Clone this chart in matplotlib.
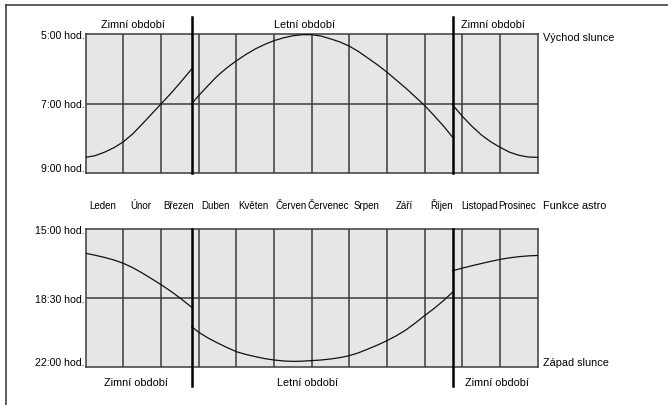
import matplotlib
matplotlib.use('Agg')
import matplotlib.pyplot as plt
from matplotlib.lines import Line2D

plt.rcParams['font.family'] = ['Liberation Sans', 'DejaVu Sans']
plt.rcParams['font.size'] = 7.8

W, H = 668, 406

months = ['Leden', 'Únor', 'Březen', 'Duben', 'Květen', 'Červen', 'Červenec',
          'Srpen', 'Září', 'Říjen', 'Listopad', 'Prosinec']
dst = [2.81, 9.74]  # zmena casu (v mesicich od 1. ledna)

# vychod slunce (hodiny), tri useky: zima / leto / zima
rise_x = [[0, 0.25, 0.5, 0.75, 1, 1.25, 1.5, 1.75, 2, 2.25, 2.5, 2.81],
          [2.81, 3, 3.25, 3.5, 3.75, 4, 4.25, 4.5, 4.75, 5, 5.25, 5.5, 5.75, 6, 6.25, 6.5, 6.75,
           7, 7.25, 7.5, 7.75, 8, 8.25, 8.5, 8.75, 9, 9.25, 9.5, 9.74],
          [9.74, 10, 10.25, 10.5, 10.75, 11, 11.25, 11.5, 11.75, 12]]
rise_y = [[8.55, 8.50, 8.40, 8.27, 8.10, 7.87, 7.59, 7.30, 7.01, 6.72, 6.41, 6.01],
          [7.01, 6.77, 6.48, 6.20, 5.97, 5.77, 5.59, 5.43, 5.30, 5.19, 5.11, 5.05, 5.02, 5.02, 5.06, 5.14, 5.23,
           5.35, 5.51, 5.70, 5.89, 6.10, 6.33, 6.56, 6.81, 7.06, 7.35, 7.65, 7.97],
          [7.04, 7.37, 7.65, 7.90, 8.10, 8.26, 8.40, 8.49, 8.54, 8.55]]

# zapad slunce (hodiny)
set_x = [[0, 0.25, 0.5, 0.75, 1, 1.25, 1.5, 1.75, 2, 2.25, 2.5, 2.81],
         [2.81, 3, 3.25, 3.5, 3.75, 4, 4.25, 4.5, 4.75, 5, 5.25, 5.5, 5.75, 6, 6.25, 6.5, 6.75,
          7, 7.25, 7.5, 7.75, 8, 8.25, 8.5, 8.75, 9, 9.25, 9.5, 9.74],
         [9.74, 10, 10.25, 10.5, 10.75, 11, 11.25, 11.5, 11.75, 12]]
set_y = [[16.23, 16.33, 16.44, 16.57, 16.74, 16.96, 17.23, 17.52, 17.82, 18.14, 18.49, 18.96],
         [19.94, 20.23, 20.52, 20.77, 21.00, 21.21, 21.35, 21.46, 21.56, 21.63, 21.68, 21.70, 21.69, 21.66, 21.63,
          21.58, 21.51, 21.41, 21.26, 21.07, 20.87, 20.65, 20.40, 20.11, 19.76, 19.38, 19.02, 18.62, 18.20],
         [17.11, 16.98, 16.86, 16.75, 16.64, 16.54, 16.46, 16.40, 16.36, 16.34]]

rise_ticks = [5, 7, 9]
rise_labels = ['5:00 hod.', '7:00 hod.', '9:00 hod.']
set_ticks = [15, 18.5, 22]
set_labels = ['15:00 hod.', '18:30 hod.', '22:00 hod.']

bg = '#e5e6e7'
grid = '#3c3c3c'

fig = plt.figure(figsize=(W / 100, H / 100), dpi=100)


def px_ax(x0, y0, x1, y1):
    return fig.add_axes([x0 / W, 1 - y1 / H, (x1 - x0) / W, (y1 - y0) / H])


ax1 = px_ax(85.8, 35, 537.7, 174)
ax2 = px_ax(85.8, 230, 537.7, 368.3)

for ax, xs, ys, ticks, labels in [(ax1, rise_x, rise_y, rise_ticks, rise_labels),
                                  (ax2, set_x, set_y, set_ticks, set_labels)]:
    ax.set_facecolor(bg)
    ax.set_xlim(0, 12)
    ax.set_ylim(ticks[-1], ticks[0])
    for i in range(1, 12):
        ax.axvline(i, color=grid, lw=1.1, zorder=1)
    ax.axhline(ticks[1], color=grid, lw=1.1, zorder=1)
    for s in ax.spines.values():
        s.set_color(grid)
        s.set_linewidth(1.1)
    for sx, sy in zip(xs, ys):
        ax.plot(sx, sy, color='#111111', lw=0.9, zorder=3)
    ax.set_xticks([])
    ax.set_yticks(ticks)
    ax.set_yticklabels(labels)
    ax.tick_params(axis='y', length=0, pad=1.2, labelsize=7.6)
    ax.get_yticklabels()[-1].set_va('bottom')

# zmena casu
for d in dst:
    ax1.axvline(d, ymin=0, ymax=1.122, color='black', lw=1.8, clip_on=False, zorder=4)
    ax2.axvline(d, ymin=-0.135, ymax=1, color='black', lw=1.8, clip_on=False, zorder=4)

# obdobi
for ax, y, xs in [(ax1, 1.072, [1.25, 5.82, 10.81]), (ax2, -0.104, [1.33, 5.89, 10.92])]:
    for x, t in zip(xs, ['Zimní období', 'Letní období', 'Zimní období']):
        ax.text(x, y, t, transform=ax.get_xaxis_transform(), ha='center', va='center')

# mesice
for i, m in enumerate(months):
    ax2.text(i + 0.45, 1.152, m, transform=ax2.get_xaxis_transform(), ha='center', va='baseline', fontsize=7)

ax1.text(12.14, 0.975, 'Východ slunce', transform=ax1.get_xaxis_transform(), ha='left', va='center')
ax2.text(12.14, 1.152, 'Funkce astro', transform=ax2.get_xaxis_transform(), ha='left', va='baseline')
ax2.text(12.14, 0.04, 'Západ slunce', transform=ax2.get_xaxis_transform(), ha='left', va='center')

# ramecek
fig.add_artist(Line2D([6 / W, 1], [1 - 6 / H, 1 - 6 / H], color='#333333', lw=1.1))
fig.add_artist(Line2D([6 / W, 6 / W], [1 - 6 / H, 0], color='#333333', lw=1.1))

fig.savefig('out.png', dpi=100)
